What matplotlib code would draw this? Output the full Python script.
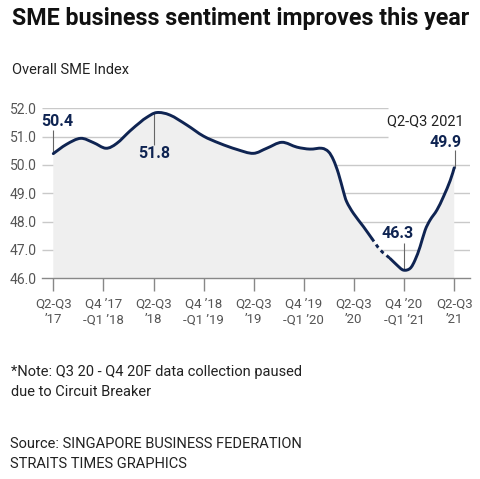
import matplotlib
matplotlib.use("Agg")
import matplotlib.pyplot as plt
from matplotlib import font_manager as fm
from matplotlib.path import Path
from matplotlib.patches import PathPatch

# overall SME index (x in quarters from Q2-Q3 '17)
quarter = [0, 0.53, 1.09, 1.6, 2.1, 2.53, 3.06, 3.46, 3.73, 4.13, 4.66, 5.33,
           5.99, 6.65, 7.32, 7.98, 8.52, 9.12, 9.72, 10.24, 10.71, 10.98,
           11.18, 11.38, 11.58, 11.71, 11.98, 12.38, 12.71, 13.05, 13.44,
           13.71, 13.97, 14.24, 14.44, 14.64, 14.84, 15.04, 15.31, 15.57,
           15.84, 16.0]
index = [50.4, 50.73, 50.94, 50.79, 50.59, 50.76, 51.2, 51.5, 51.68, 51.85,
         51.76, 51.41, 51.02, 50.76, 50.55, 50.41, 50.59, 50.8, 50.63, 50.56,
         50.59, 50.47, 50.18, 49.7, 49.06, 48.7, 48.29, 47.82, 47.41, 47.0,
         46.7, 46.47, 46.29, 46.35, 46.65, 47.12, 47.7, 48.06, 48.41, 48.88,
         49.45, 49.9]
gap_start, gap_end = 12.71, 13.44   # data collection paused

tick_q = [0, 2, 4, 6, 8, 10, 12, 14, 16]
tick_labels = ["Q2-Q3\n’17", "Q4 ’17\n-Q1 ’18", "Q2-Q3\n’18", "Q4 ’18\n-Q1 ’19",
               "Q2-Q3\n’19", "Q4 ’19\n-Q1 ’20", "Q2-Q3\n’20", "Q4 ’20\n-Q1 ’21",
               "Q2-Q3\n’21"]
yticks = [46, 47, 48, 49, 50, 51, 52]

navy = "#0f2452"
grey = "#555555"
names = {f.name for f in fm.fontManager.ttflist}
body = "Roboto" if "Roboto" in names else "DejaVu Sans"
head = "Liberation Sans Narrow" if "Liberation Sans Narrow" in names else body
plt.rcParams["font.family"] = [body, "DejaVu Sans"]


def smooth(i0, i1):
    # bezier curve through the points i0..i1 (tangents from neighbours)
    n = len(quarter)
    verts = [(quarter[i0], index[i0])]
    codes = [Path.MOVETO]
    for i in range(i0, i1):
        a, b = max(i - 1, 0), min(i + 2, n - 1)
        c1 = (quarter[i] + (quarter[i + 1] - quarter[a]) / 6,
              index[i] + (index[i + 1] - index[a]) / 6)
        c2 = (quarter[i + 1] - (quarter[b] - quarter[i]) / 6,
              index[i + 1] - (index[b] - index[i]) / 6)
        verts += [c1, c2, (quarter[i + 1], index[i + 1])]
        codes += [Path.CURVE4] * 3
    return verts, codes


fig = plt.figure(figsize=(4.8, 4.79), dpi=100)
W, H = 480, 479
ax = fig.add_axes([42 / W, 1 - 278.3 / H, (470 - 42) / W, (278.3 - 108.3) / H])
ax.set_xlim(-0.45, 16.63)
ax.set_ylim(46, 52)

# gridlines (top two stop short to leave room for label)
for y in yticks[1:]:
    xe = 13.36 if y >= 51 else 16.63
    ax.hlines(y, -0.45, xe, color="#c9c9c9", lw=1, zorder=0)

last = len(quarter) - 1
g0, g1 = quarter.index(gap_start), quarter.index(gap_end)

v, c = smooth(0, last)
v += [(quarter[-1], 46), (quarter[0], 46), (quarter[0], index[0])]
c += [Path.LINETO, Path.LINETO, Path.CLOSEPOLY]
ax.add_patch(PathPatch(Path(v, c), facecolor="#efefef", lw=0, zorder=0.5))

for a, b in ((0, g0), (g1, last)):
    v, c = smooth(a, b)
    ax.add_patch(PathPatch(Path(v, c), fill=False, edgecolor=navy, lw=2.1,
                           capstyle="round", zorder=3))
v, c = smooth(g0, g1)
ax.add_patch(PathPatch(Path(v, c), fill=False, edgecolor=navy, lw=2.1,
                       linestyle=(0, (1.3, 1.3)), zorder=3))

for s in ["top", "right", "left"]:
    ax.spines[s].set_visible(False)
ax.spines["bottom"].set_color("#888888")
ax.spines["bottom"].set_linewidth(1)
ax.set_yticks(yticks)
ax.set_yticklabels([f"{y:.1f}" for y in yticks], color=grey, fontsize=10)
ax.tick_params(axis="y", length=0, pad=4)
ax.set_xticks(tick_q)
ax.set_xticklabels(tick_labels, color=grey, fontsize=9.5, linespacing=1.25)
ax.tick_params(axis="x", length=9, width=1, color="#888888", pad=5)

# callouts
lab = dict(color=navy, fontsize=11.5, fontweight="bold", ha="center", va="center")
ax.vlines(quarter[0], index[0], 51.25, color="#666666", lw=0.8)
ax.text(0.15, 51.52, "50.4", **lab)
ax.vlines(4.02, 50.7, max(index), color="#666666", lw=0.8)
ax.text(4.03, 50.41, "51.8", **lab)
ax.vlines(14.0, min(index), 47.25, color="#666666", lw=0.8)
ax.text(13.75, 47.59, "46.3", **lab)
ax.vlines(16.03, index[-1], 50.53, color="#666666", lw=0.8)
ax.text(15.64, 50.8, "49.9", **lab)
ax.text(14.84, 51.53, "Q2-Q3 2021", color="#222222", fontsize=10.5,
        ha="center", va="center")

# title fitted to width
t = fig.text(12 / W, 1 - 18 / H, "SME business sentiment improves this year",
             fontsize=17, fontweight="bold", family=[head, "DejaVu Sans"],
             va="center", ha="left", color="#111111")
fig.canvas.draw()
w = t.get_window_extent().width
t.set_fontsize(17 * 458 / w)

fig.text(12 / W, 1 - 70 / H, "Overall SME Index", fontsize=10.5,
         color="#222222", va="center")
fig.text(11 / W, 1 - 365 / H,
         "*Note: Q3 20 - Q4 20F data collection paused\ndue to Circuit Breaker",
         fontsize=10.5, color="#222222", va="top", linespacing=1.55)
fig.text(10 / W, 1 - 437 / H,
         "Source: SINGAPORE BUSINESS FEDERATION\nSTRAITS TIMES GRAPHICS",
         fontsize=10.5, color="#222222", va="top", linespacing=1.55)

fig.savefig("out.png", dpi=100)
